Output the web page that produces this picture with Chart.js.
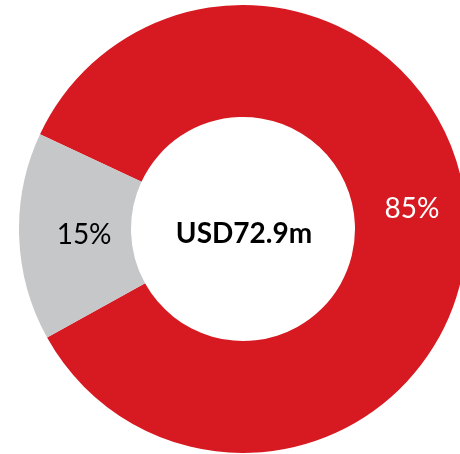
<!DOCTYPE html>
<html>
<head>
<meta charset="utf-8">
<script src="https://cdn.jsdelivr.net/npm/chart.js@4"></script>
<style>
  html, body { margin: 0; padding: 0; background: #fff; overflow: hidden; width: 460px; height: 454px; }
  #wrap { position: absolute; left: 19px; top: 5px; width: 448px; height: 448px; }
</style>
</head>
<body>
<div id="wrap"><canvas id="splitChart" width="448" height="448"></canvas></div>
<script>
// Revenue split (doughnut)
const categories = ['Main', 'Other'];
const shares = [85, 15];
const totalLabel = 'USD72.9m';
const sliceColors = ['#d71a21', '#c6c7c9'];
const labelColors = ['#ffffff', '#000000'];
// small nudges for the slice labels
const labelShift = [[1, -14], [9, 0]];

const FONT = 'Lato, "Open Sans", sans-serif';

// percentage labels on each slice + the total in the hole
const labelsPlugin = {
    id: 'sliceLabels',
    afterDatasetsDraw(chart) {
        const ctx = chart.ctx;
        const meta = chart.getDatasetMeta(0);
        ctx.save();
        ctx.textAlign = 'center';
        ctx.textBaseline = 'middle';
        ctx.font = '28px ' + FONT;
        meta.data.forEach((arc, i) => {
            const p = arc.tooltipPosition();
            ctx.fillStyle = labelColors[i];
            ctx.fillText(shares[i] + '%', p.x + labelShift[i][0], p.y + labelShift[i][1]);
        });
        const c = meta.data[0];
        ctx.font = 'bold 28px ' + FONT;
        ctx.fillStyle = '#000';
        ctx.fillText(totalLabel, c.x + 1, c.y + 5);
        ctx.restore();
    }
};

const ctx = document.getElementById('splitChart').getContext('2d');
const splitChart = new Chart(ctx, {
    type: 'doughnut',
    data: {
        labels: categories,
        datasets: [{
            data: shares,
            backgroundColor: sliceColors,
            borderWidth: 0
        }]
    },
    options: {
        responsive: false,
        animation: false,
        cutout: '50%',
        rotation: -65,
        layout: { padding: 0 },
        plugins: {
            legend: { display: false },
            tooltip: { enabled: false }
        }
    },
    plugins: [labelsPlugin]
});
</script>
</body>
</html>
